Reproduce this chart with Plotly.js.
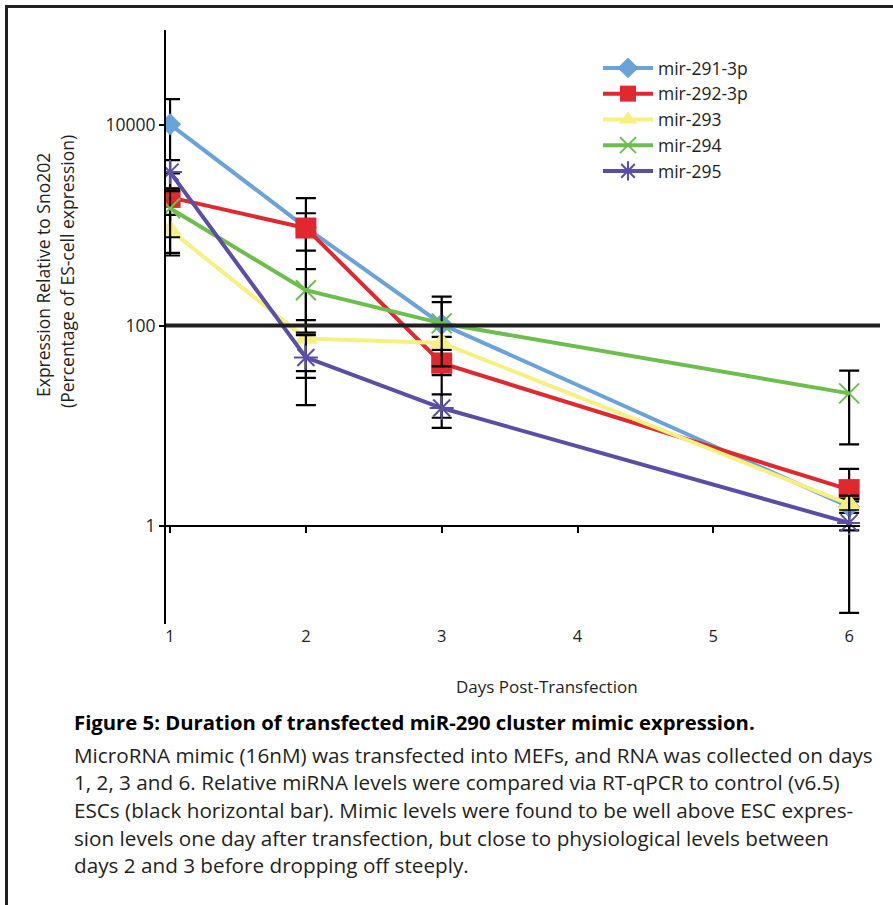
<!DOCTYPE html>
<html>
<head>
<meta charset="utf-8">
<script src="https://cdn.plot.ly/plotly-3.0.1.min.js"></script>
<style>html,body{margin:0;padding:0;background:#fff;}#chart{width:893px;height:905px;}</style>
</head>
<body>
<div id="chart"></div>
<script>
// ---- data ----
const days = [1, 2, 3, 6];
const seriesNames = ['mir-291-3p', 'mir-292-3p', 'mir-293', 'mir-294', 'mir-295'];
const mir291_3p = [10200, 950, 103, 1.55];
const mir292_3p = [1900, 940, 42, 2.3];
const mir293 = [900, 74, 67, 1.65];
const mir294 = [1480, 225, 105, 21];
const mir295 = [3400, 48, 15, 1.07];
const err291_3p = [8000, 920, 91, 0.2];
const err292_3p = [1400, 380, 10, 1.4];
const err293 = [370, 39, 10, 0.2];
const err294 = [720, 140, 66, 14.5];
const err295 = [1070, 32, 5.5, 0.935];
const xTickVals = [1, 2, 3, 4, 5, 6];
const yTickVals = [1, 100, 10000];
const yTickText = ['1', '100', '10000'];
const escLevel = 100;
const xTitle = 'Days Post-Transfection';
const yTitleLines = ['Expression Relative to Sno202', '(Percentage of ES-cell expression)'];
const captionTitle = 'Figure 5: Duration of transfected miR-290 cluster mimic expression.';
const captionLines = [
  'MicroRNA mimic (16nM) was transfected into MEFs, and RNA was collected on days',
  '1, 2, 3 and 6. Relative miRNA levels were compared via RT-qPCR to control (v6.5)',
  'ESCs (black horizontal bar). Mimic levels were found to be well above ESC expres-',
  'sion levels one day after transfection, but close to physiological levels between',
  'days 2 and 3 before dropping off steeply.'
];

// ---- layout geometry ----
const W = 893, H = 905;
const L = 166, R = 860, T = 30, B = 624;
const xRange = [0.97, 6.08];
const yRange = [-0.98, 4.95];
const px = v => (v - L) / (R - L);
const py = v => (B - v) / (B - T);
const FONT = 'Open Sans, sans-serif';
const TXT = '#231f20';

const values = [mir291_3p, mir292_3p, mir293, mir294, mir295];
const errs = [err291_3p, err292_3p, err293, err294, err295];
const colors = ['#6aa2da', '#e1282e', '#f7f07f', '#6cbf4c', '#5a4ea6'];
const symbols = ['diamond', 'square', 'triangle-up', 'x-thin-open', 'asterisk-open'];
const sizes = [17, 21, 21, 20, 20];

const traces = values.map((v, i) => ({
  type: 'scatter', mode: 'lines+markers', name: seriesNames[i],
  x: days, y: v,
  line: {color: colors[i], width: 4},
  marker: {symbol: symbols[i], size: sizes[i], color: colors[i],
           line: {color: colors[i], width: (i >= 3 ? 2 : 0)}},
  error_y: {type: 'data', array: errs[i], visible: true, color: '#000', thickness: 2.2, width: 10},
  xaxis: 'x', yaxis: 'y'
}));

// axis line crossing at value 1, ticks only
traces.push({type: 'scatter', mode: 'none', x: [], y: [], xaxis: 'x2', yaxis: 'y', showlegend: false, hoverinfo: 'skip'});

const crossPos = (Math.log10(1) - yRange[0]) / (yRange[1] - yRange[0]);

const annotations = [];
annotations.push({xref: 'paper', yref: 'paper', x: px(547), y: py(686), text: xTitle, showarrow: false,
  xanchor: 'center', yanchor: 'middle', font: {family: FONT, size: 17, color: TXT}});
annotations.push({xref: 'paper', yref: 'paper', x: px(43), y: py(275), text: yTitleLines[0], showarrow: false,
  textangle: -90, xanchor: 'center', yanchor: 'middle', font: {family: FONT, size: 17.5, color: TXT}});
annotations.push({xref: 'paper', yref: 'paper', x: px(67), y: py(272), text: yTitleLines[1], showarrow: false,
  textangle: -90, xanchor: 'center', yanchor: 'middle', font: {family: FONT, size: 17.5, color: TXT}});
annotations.push({xref: 'paper', yref: 'paper', x: px(72), y: py(722), text: '<b>' + captionTitle + '</b>', showarrow: false,
  xanchor: 'left', yanchor: 'middle', font: {family: FONT, size: 20.3, color: '#000'}});
const capY = [755, 782, 810, 838, 865];
captionLines.forEach((t, i) => annotations.push({xref: 'paper', yref: 'paper', x: px(72), y: py(capY[i]), text: t,
  showarrow: false, xanchor: 'left', yanchor: 'middle', font: {family: FONT, size: 20.7, color: TXT}}));

const shapes = [
  {type: 'line', xref: 'paper', yref: 'y', x0: 0, x1: px(880), y0: escLevel, y1: escLevel,
   line: {color: '#231f20', width: 4}},
  {type: 'rect', xref: 'paper', yref: 'paper', x0: px(6.5), x1: px(920), y0: py(6.5), y1: py(930),
   line: {color: '#231f20', width: 3}}
];

const layout = {
  width: W, height: H,
  margin: {l: L, r: W - R, t: T, b: H - B, pad: 0},
  paper_bgcolor: '#fff', plot_bgcolor: 'rgba(0,0,0,0)',
  showlegend: true,
  legend: {x: px(598), y: py(50), xanchor: 'left', yanchor: 'top', bgcolor: 'rgba(0,0,0,0)',
           font: {family: FONT, size: 17.5, color: TXT}, tracegroupgap: 0, itemwidth: 50},
  xaxis: {range: xRange, showgrid: false, zeroline: false, showline: false, ticks: '',
          tickvals: xTickVals, ticktext: xTickVals.map(String), tickfont: {family: FONT, size: 16.5, color: TXT}},
  xaxis2: {range: xRange, overlaying: 'x', anchor: 'free', position: crossPos, side: 'bottom',
           showgrid: false, zeroline: false, showline: true, linecolor: '#000', linewidth: 2,
           ticks: 'outside', ticklen: 6, tickwidth: 2, tickcolor: '#000', tickvals: xTickVals, showticklabels: false},
  yaxis: {type: 'log', range: yRange, showgrid: false, zeroline: false, showline: true, linecolor: '#000', linewidth: 2,
          ticks: 'outside', ticklen: 5, tickwidth: 2, tickcolor: '#000', tickvals: yTickVals, ticktext: yTickText,
          tickfont: {family: FONT, size: 17.5, color: TXT}},
  annotations: annotations,
  shapes: shapes
};

Plotly.newPlot('chart', traces, layout, {displayModeBar: false, staticPlot: true});
</script>
</body>
</html>
